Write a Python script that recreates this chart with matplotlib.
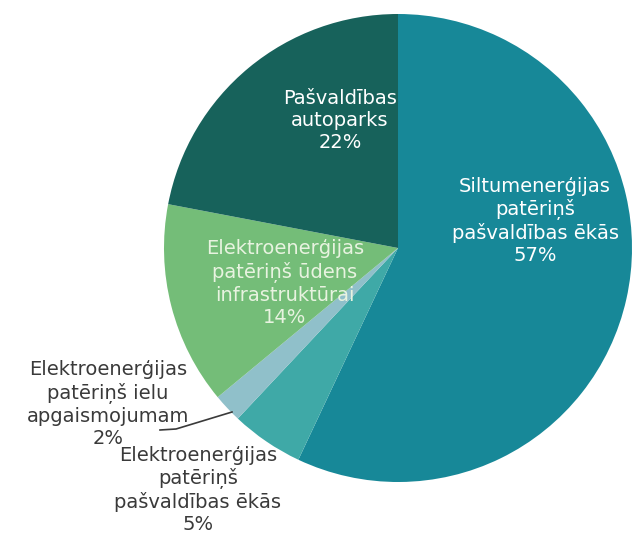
# Enerģijas patēriņa sadalījums pašvaldībā
import matplotlib.pyplot as plt

vertibas = [57, 5, 2, 14, 22]
nosaukumi = [
    "Siltumenerģijas\npatēriņš\npašvaldības ēkās",
    "Elektroenerģijas\npatēriņš\npašvaldības ēkās",
    "Elektroenerģijas\npatēriņš ielu\napgaismojumam",
    "Elektroenerģijas\npatēriņš ūdens\ninfrastruktūrai",
    "Pašvaldības\nautoparks",
]
krasas = ["#178898", "#3FA9A7", "#90C0CA", "#74BD78", "#17625B"]
teksta_krasas = ["white", "#3a3a3a", "#3a3a3a", "#E8F3E0", "white"]

# etiķešu centri (pikseļos no augšējā kreisā stūra)
etiketes = [(535, 221), (198, 490), (108, 404), (285, 283), (340, 121)]

fig = plt.figure(figsize=(6.34, 5.36), dpi=100)
ax = fig.add_axes([0, 0, 1, 1])

ax.pie(vertibas, colors=krasas, startangle=90, counterclock=False,
       radius=234, center=(398, 536 - 248), frame=True)
ax.set_xlim(0, 634)
ax.set_ylim(0, 536)
ax.set_aspect("equal")
ax.axis("off")

for v, n, c, (x, y) in zip(vertibas, nosaukumi, teksta_krasas, etiketes):
    ax.text(x, 536 - y, n + "\n" + str(v) + "%", color=c, fontsize=14,
            ha="center", va="center", linespacing=1.2, family="DejaVu Sans")

# līnija uz 2% daļu
ax.plot([160, 176, 232], [536 - 430, 536 - 429, 536 - 412], color="#3a3a3a", lw=1.2)

plt.savefig("out.png", dpi=100)
